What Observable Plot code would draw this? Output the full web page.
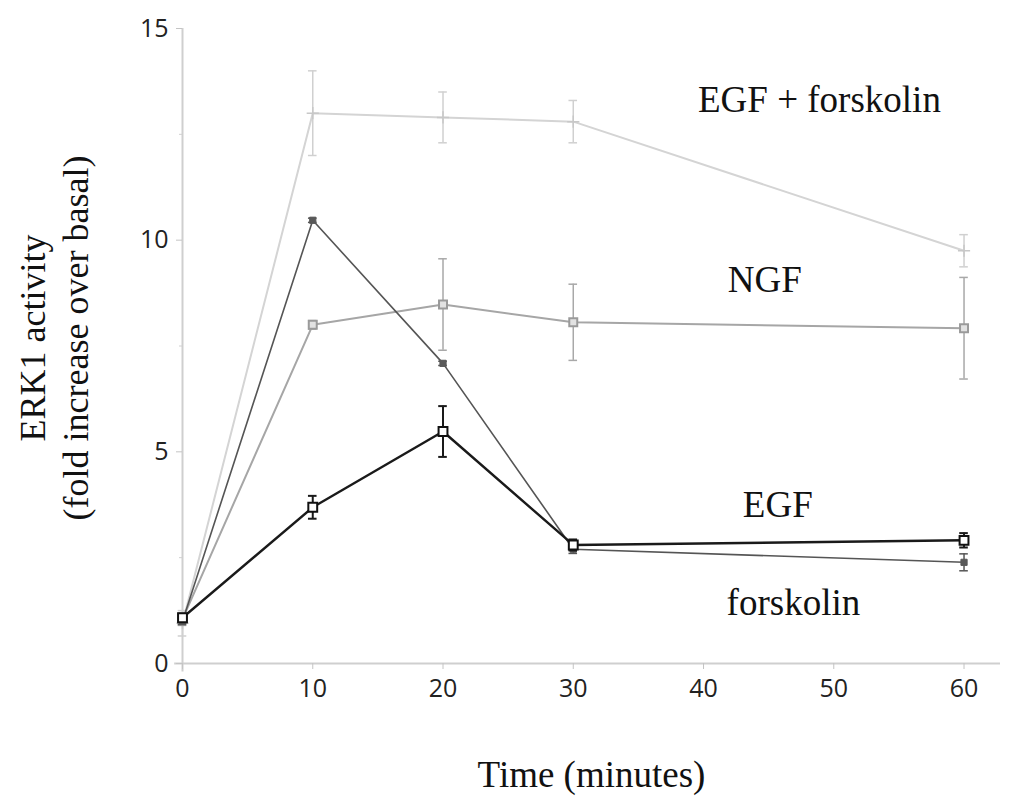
<!DOCTYPE html>
<html>
<head>
<meta charset="utf-8">
<script src="https://cdn.jsdelivr.net/npm/d3@7"></script>
<script src="https://cdn.jsdelivr.net/npm/@observablehq/plot@0.6"></script>
<style>
  html, body { margin: 0; padding: 0; background: #fff; }
  #chart { width: 1020px; height: 805px; }
</style>
</head>
<body>
<div id="chart"></div>
<script>
// ---- data ----
const times = [0, 10, 20, 30, 60];
const egfForskolin    = [0.95, 13.0, 12.9, 12.8, 9.75];
const egfForskolinErr = [0.3, 1.0, 0.6, 0.5, 0.38];
const ngf             = [1.05, 8.0, 8.48, 8.06, 7.92];
const ngfErr          = [0.15, 0.1, 1.08, 0.9, 1.2];
const forskolin       = [1.0, 10.47, 7.09, 2.7, 2.39];
const forskolinErr    = [0.08, 0.05, 0.05, 0.1, 0.2];
const egf             = [1.08, 3.69, 5.48, 2.8, 2.91];
const egfErr          = [0.08, 0.27, 0.6, 0.13, 0.17];

const xTicks = [0, 10, 20, 30, 40, 50, 60];
const yTicks = [0, 5, 10, 15];
const yMinorTicks = [2.5, 7.5, 12.5];

const labelNames = ["EGF + forskolin", "NGF", "EGF", "forskolin"];
const labelT = [48.9, 44.7, 45.7, 46.9];
const labelV = [13.3, 9.05, 3.73, 1.42];

const xLabel = "Time (minutes)";
const yLabel = "ERK1 activity\n(fold increase over basal)";

// ---- build ----
function rows(vals, errs) {
  return times.map((t, i) => ({t, v: vals[i], lo: vals[i] - errs[i], hi: vals[i] + errs[i]}));
}
const series = [
  {rows: rows(egfForskolin, egfForskolinErr), line: "#d4d4d4", lw: 2, err: "#d0d0d0", ew: 1.5, sym: "plus", r: 4, fill: "none", mstroke: "#c8c8c8", msw: 1.5},
  {rows: rows(ngf, ngfErr), line: "#a6a6a6", lw: 2, err: "#a8a8a8", ew: 1.5, sym: "square", r: 4.5, fill: "#e2e2e2", mstroke: "#9a9a9a", msw: 2},
  {rows: rows(forskolin, forskolinErr), line: "#555555", lw: 1.6, err: "#555555", ew: 1.5, sym: "square", r: 3.5, fill: "#595959", mstroke: "#595959", msw: 1},
  {rows: rows(egf, egfErr), line: "#1a1a1a", lw: 2.4, err: "#1a1a1a", ew: 2, sym: "square", r: 5, fill: "#ffffff", mstroke: "#111111", msw: 2}
];
const capHalf = 0.33;

const marks = [
  Plot.ruleY([0], {x1: -0.6, x2: 62.8, stroke: "#cfcfcf", strokeWidth: 2}),
  Plot.ruleX([0], {y1: -0.2, y2: 15, stroke: "#cfcfcf", strokeWidth: 2}),
  Plot.axisX(xTicks, {tickSize: 6, tickPadding: 10, stroke: "#c4c4c4", fill: "#222", label: null}),
  Plot.axisY(yTicks, {tickSize: 6, tickPadding: 8, stroke: "#c4c4c4", fill: "#222", label: null}),
  Plot.axisY(yMinorTicks, {tickSize: 3, tickFormat: () => "", stroke: "#d0d0d0", label: null})
];

for (const s of series) {
  marks.push(Plot.line(s.rows, {x: "t", y: "v", stroke: s.line, strokeWidth: s.lw}));
  marks.push(Plot.ruleX(s.rows, {x: "t", y1: "lo", y2: "hi", stroke: s.err, strokeWidth: s.ew}));
  marks.push(Plot.ruleY(s.rows, {y: "hi", x1: d => d.t - capHalf, x2: d => d.t + capHalf, stroke: s.err, strokeWidth: s.ew}));
  marks.push(Plot.ruleY(s.rows, {y: "lo", x1: d => d.t - capHalf, x2: d => d.t + capHalf, stroke: s.err, strokeWidth: s.ew}));
  marks.push(Plot.dot(s.rows, {x: "t", y: "v", symbol: s.sym, r: s.r, fill: s.fill, stroke: s.mstroke, strokeWidth: s.msw}));
}

const labels = labelNames.map((name, i) => ({name, t: labelT[i], v: labelV[i]}));
const serif = "'Liberation Serif', 'Times New Roman', serif";
marks.push(Plot.text(labels, {x: "t", y: "v", text: "name", fontFamily: serif, fontSize: 37, fill: "#111", lineAnchor: "middle"}));
marks.push(Plot.text([xLabel], {frameAnchor: "bottom", dy: 112, text: d => d, fontFamily: serif, fontSize: 37, fill: "#111", lineAnchor: "middle"}));
marks.push(Plot.text([yLabel], {frameAnchor: "left", textAnchor: "middle", dx: -130, dy: -8, rotate: -90, text: d => d, fontFamily: serif, fontSize: 36, lineHeight: 1.2, fill: "#111", lineAnchor: "middle"}));

const chart = Plot.plot({
  width: 1020,
  height: 805,
  marginLeft: 182,
  marginRight: 20,
  marginTop: 28,
  marginBottom: 142,
  x: {domain: [0, 62.8]},
  y: {domain: [0, 15]},
  style: {background: "#fff", overflow: "visible", fontFamily: "'Open Sans', Lato, sans-serif", fontSize: "25px"},
  marks
});
document.getElementById("chart").appendChild(chart);
</script>
</body>
</html>
